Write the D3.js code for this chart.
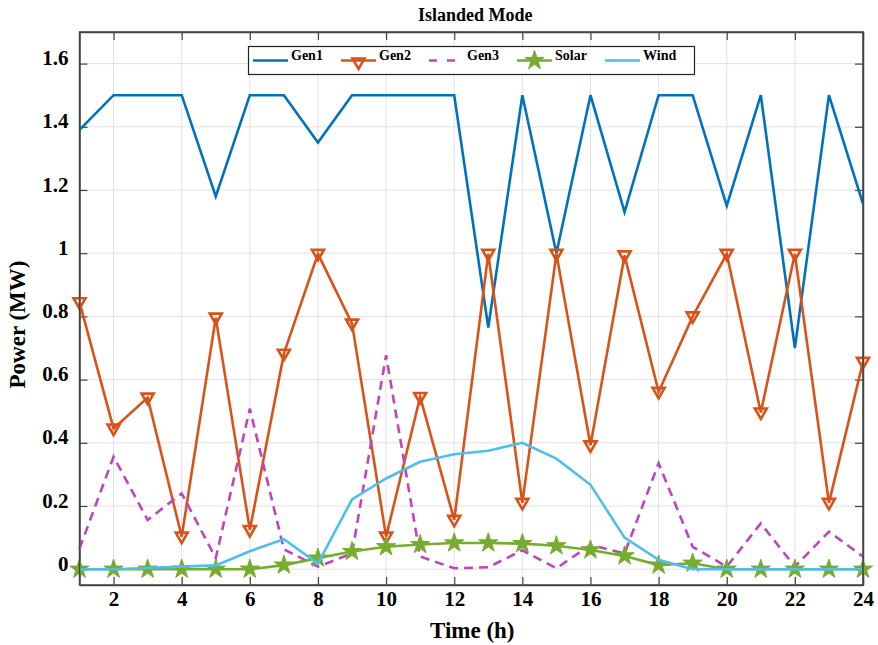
<!DOCTYPE html>
<html>
<head>
<meta charset="utf-8">
<script src="https://cdn.jsdelivr.net/npm/d3@7"></script>
<style>
  html, body { margin: 0; padding: 0; background: #fff; }
  svg { display: block; font-family: "Liberation Serif", "Times New Roman", serif; font-weight: bold; }
</style>
</head>
<body>
<svg id="chart" width="878" height="645"></svg>
<script>
// ---- Data ----
const hours = d3.range(1, 25);
const gen1  = [1.39, 1.50, 1.50, 1.50, 1.18, 1.50, 1.50, 1.35, 1.50, 1.50, 1.50, 1.50, 0.765, 1.50, 1.00, 1.50, 1.13, 1.50, 1.50, 1.15, 1.50, 0.70, 1.50, 1.156];
const gen2  = [0.845, 0.445, 0.543, 0.103, 0.796, 0.124, 0.682, 0.998, 0.777, 0.103, 0.545, 0.156, 0.998, 0.21, 0.998, 0.392, 0.993, 0.561, 0.80, 0.998, 0.496, 0.998, 0.21, 0.656];
const gen3  = [0.065, 0.356, 0.156, 0.24, 0.035, 0.508, 0.063, 0.008, 0.05, 0.677, 0.04, 0.003, 0.006, 0.06, 0.003, 0.077, 0.05, 0.335, 0.071, 0.008, 0.145, 0.008, 0.119, 0.04];
const solar = [0, 0, 0, 0, 0, 0, 0.013, 0.035, 0.056, 0.071, 0.078, 0.083, 0.083, 0.081, 0.074, 0.061, 0.042, 0.013, 0.019, 0, 0, 0, 0, 0];
const wind  = [0, 0, 0.004, 0.008, 0.012, 0.057, 0.095, 0.018, 0.221, 0.287, 0.34, 0.364, 0.375, 0.40, 0.35, 0.267, 0.10, 0.03, 0, 0, 0, 0, 0, 0];
const xTicks = [2, 4, 6, 8, 10, 12, 14, 16, 18, 20, 22, 24];
const yTicks = [0, 0.2, 0.4, 0.6, 0.8, 1, 1.2, 1.4, 1.6];
const seriesNames = ["Gen1", "Gen2", "Gen3", "Solar", "Wind"];
const titleText = "Islanded Mode";
const xLabel = "Time (h)";
const yLabel = "Power (MW)";

// ---- Layout ----
const svg = d3.select("#chart");
const L = 79.5, R = 863, T = 32, B = 585;
const x = d3.scaleLinear().domain([1, 24]).range([L, R]);
const y = d3.scaleLinear().domain([-0.05, 1.7]).range([B, T]);

const colors = { Gen1: "#0072BD", Gen2: "#D95319", Gen3: "#BF45BF", Solar: "#77AC30", Wind: "#4DBEEE" };
const data = { Gen1: gen1, Gen2: gen2, Gen3: gen3, Solar: solar, Wind: wind };
const triPath = "M-6,-4L6,-4L0,6.5Z";

// grid
const grid = svg.append("g");
grid.selectAll("line.gx").data(xTicks).join("line")
  .attr("x1", d => x(d)).attr("x2", d => x(d)).attr("y1", T).attr("y2", B)
  .attr("stroke", "#e2e2e2").attr("stroke-width", 1);
grid.selectAll("line.gy").data(yTicks).join("line")
  .attr("x1", L).attr("x2", R).attr("y1", d => y(d)).attr("y2", d => y(d))
  .attr("stroke", "#e2e2e2").attr("stroke-width", 1);

// axes (ticks inward)
const tl = 8;
const axB = svg.append("g").attr("transform", `translate(0,${B})`)
  .call(d3.axisBottom(x).tickValues(xTicks).tickSizeInner(-tl).tickSizeOuter(0).tickPadding(6).tickFormat(d3.format("d")));
const axT = svg.append("g").attr("transform", `translate(0,${T})`)
  .call(d3.axisTop(x).tickValues(xTicks).tickSizeInner(-tl).tickSizeOuter(0).tickFormat(""));
const axL = svg.append("g").attr("transform", `translate(${L},0)`)
  .call(d3.axisLeft(y).tickValues(yTicks).tickSizeInner(-tl).tickSizeOuter(0).tickPadding(11).tickFormat(d3.format("")));
const axR = svg.append("g").attr("transform", `translate(${R},0)`)
  .call(d3.axisRight(y).tickValues(yTicks).tickSizeInner(-tl).tickSizeOuter(0).tickFormat(""));
[axB, axT, axL, axR].forEach(a => {
  a.select(".domain").attr("stroke", "#444").attr("stroke-width", 1.5);
  a.selectAll(".tick line").attr("stroke", "#444").attr("stroke-width", 1.2);
  a.selectAll("text").attr("fill", "#000").style("font-family", "Liberation Serif").style("font-weight", "bold").attr("font-size", 21);
});
axL.selectAll(".tick text").attr("dy", "0.05em");
axB.selectAll(".tick text").attr("dy", "0.71em");

// lines
const line = d3.line().x((d, i) => x(hours[i])).y(d => y(d));
const plot = svg.append("g");
seriesNames.forEach(name => {
  plot.append("path").datum(data[name])
    .attr("d", line)
    .attr("fill", "none")
    .attr("stroke", colors[name])
    .attr("stroke-width", 2.6)
    .attr("stroke-linejoin", "miter")
    .attr("stroke-dasharray", name === "Gen3" ? "9,6" : null);
  if (name === "Gen2") {
    plot.selectAll("path.tri").data(gen2).join("path")
      .attr("transform", (d, i) => `translate(${x(hours[i])},${y(d)})`)
      .attr("d", triPath)
      .attr("fill", "none").attr("stroke", colors.Gen2).attr("stroke-width", 2.6);
  }
  if (name === "Solar") {
    plot.selectAll("path.star").data(solar).join("path")
      .attr("transform", (d, i) => `translate(${x(hours[i])},${y(d)})`)
      .attr("d", d3.symbol(d3.symbolStar, 115))
      .attr("fill", colors.Solar).attr("stroke", colors.Solar).attr("stroke-width", 1);
  }
});

// border on top
svg.append("rect").attr("x", L).attr("y", T).attr("width", R - L).attr("height", B - T)
  .attr("fill", "none").attr("stroke", "#444").attr("stroke-width", 1.5);

// title & labels
svg.append("text").attr("x", (L + R) / 2 + 4).attr("y", 21).attr("text-anchor", "middle")
  .attr("font-size", 18).text(titleText);
svg.append("text").attr("x", (L + R) / 2 + 1).attr("y", 638).attr("text-anchor", "middle")
  .attr("font-size", 23).text(xLabel);
svg.append("text").attr("transform", `translate(25,${(T + B) / 2 + 16}) rotate(-90)`).attr("text-anchor", "middle")
  .attr("font-size", 23).text(yLabel);

// legend
const lg = svg.append("g");
lg.append("rect").attr("x", 248.5).attr("y", 46.5).attr("width", 446).attr("height", 28)
  .attr("fill", "#fff").attr("stroke", "#222").attr("stroke-width", 1.2);
const lx = [253, 341, 429, 517, 605];
seriesNames.forEach((name, i) => {
  const g = lg.append("g");
  const y0 = 60.5;
  g.append("line").attr("x1", lx[i]).attr("x2", lx[i] + 35).attr("y1", y0).attr("y2", y0)
    .attr("stroke", colors[name]).attr("stroke-width", 2.6)
    .attr("stroke-dasharray", name === "Gen3" ? "8,10" : null);
  if (name === "Gen2") {
    g.append("path").attr("transform", `translate(${lx[i] + 17.5},${y0 + 2})`)
      .attr("d", triPath)
      .attr("fill", "none").attr("stroke", colors.Gen2).attr("stroke-width", 2.6);
  }
  if (name === "Solar") {
    g.append("path").attr("transform", `translate(${lx[i] + 17.5},${y0})`)
      .attr("d", d3.symbol(d3.symbolStar, 115)).attr("fill", colors.Solar).attr("stroke", colors.Solar);
  }
  g.append("text").attr("x", lx[i] + 38).attr("y", 60)
    .attr("font-size", 14).text(name);
});
</script>
</body>
</html>
